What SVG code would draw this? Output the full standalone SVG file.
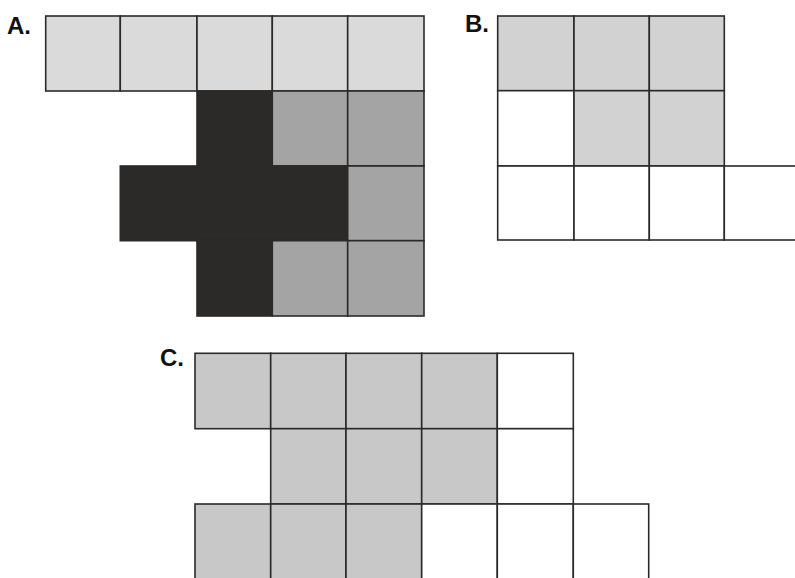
<svg xmlns="http://www.w3.org/2000/svg" width="795" height="578" viewBox="0 0 795 578">
<style>
.c{stroke:#2a2a2a;stroke-width:1.6}
.l1{fill:#dadada}
.l2{fill:#d2d2d2}
.l3{fill:#c8c8c8}
.m{fill:#a4a4a4}
.d{fill:#2c2929}
.w{fill:#ffffff}
.lab{font-family:"Liberation Sans",Arial,sans-serif;font-weight:bold;font-size:24px;fill:#111}
</style>
<rect width="795" height="578" fill="#fff"/>
<g id="panelA">
<text class="lab" x="7" y="34">A.</text>
<rect class="c l1" x="45.7" y="16" width="74.6" height="75"/>
<rect class="c l1" x="120.3" y="16" width="76.7" height="75"/>
<rect class="c l1" x="197" y="16" width="75.3" height="75"/>
<rect class="c l1" x="272.3" y="16" width="75.4" height="75"/>
<rect class="c l1" x="347.7" y="16" width="76.3" height="75"/>
<rect class="c d" x="197" y="91" width="75.3" height="75"/>
<rect class="c m" x="272.3" y="91" width="75.4" height="75"/>
<rect class="c m" x="347.7" y="91" width="76.3" height="75"/>
<rect class="c d" x="120.3" y="166" width="76.7" height="74.7"/>
<rect class="c d" x="197" y="166" width="75.3" height="74.7"/>
<rect class="c d" x="272.3" y="166" width="75.4" height="74.7"/>
<rect class="c m" x="347.7" y="166" width="76.3" height="74.7"/>
<rect class="c d" x="197" y="240.7" width="75.3" height="75.3"/>
<rect class="c m" x="272.3" y="240.7" width="75.4" height="75.3"/>
<rect class="c m" x="347.7" y="240.7" width="76.3" height="75.3"/>
</g>
<g id="panelB">
<text class="lab" x="465" y="32">B.</text>
<rect class="c l2" x="497.7" y="16" width="76.3" height="74.7"/>
<rect class="c l2" x="574" y="16" width="75.3" height="74.7"/>
<rect class="c l2" x="649.3" y="16" width="75" height="74.7"/>
<rect class="c w" x="497.7" y="90.7" width="76.3" height="75.3"/>
<rect class="c l2" x="574" y="90.7" width="75.3" height="75.3"/>
<rect class="c l2" x="649.3" y="90.7" width="75" height="75.3"/>
<rect class="c w" x="497.7" y="166" width="76.3" height="74"/>
<rect class="c w" x="574" y="166" width="75.3" height="74"/>
<rect class="c w" x="649.3" y="166" width="75" height="74"/>
<rect class="c w" x="724.3" y="166" width="75" height="74"/>
</g>
<g id="panelC">
<text class="lab" x="160" y="366">C.</text>
<rect class="c l3" x="195" y="353.3" width="75.7" height="75.4"/>
<rect class="c l3" x="270.7" y="353.3" width="75.3" height="75.4"/>
<rect class="c l3" x="346" y="353.3" width="75.7" height="75.4"/>
<rect class="c l3" x="421.7" y="353.3" width="75.6" height="75.4"/>
<rect class="c w" x="497.3" y="353.3" width="76" height="75.4"/>
<rect class="c l3" x="270.7" y="428.7" width="75.3" height="75.3"/>
<rect class="c l3" x="346" y="428.7" width="75.7" height="75.3"/>
<rect class="c l3" x="421.7" y="428.7" width="75.6" height="75.3"/>
<rect class="c w" x="497.3" y="428.7" width="76" height="75.3"/>
<rect class="c l3" x="195" y="504" width="75.7" height="75.5"/>
<rect class="c l3" x="270.7" y="504" width="75.3" height="75.5"/>
<rect class="c l3" x="346" y="504" width="75.7" height="75.5"/>
<rect class="c w" x="421.7" y="504" width="75.6" height="75.5"/>
<rect class="c w" x="497.3" y="504" width="76" height="75.5"/>
<rect class="c w" x="573.3" y="504" width="75.4" height="75.5"/>
</g>
</svg>
